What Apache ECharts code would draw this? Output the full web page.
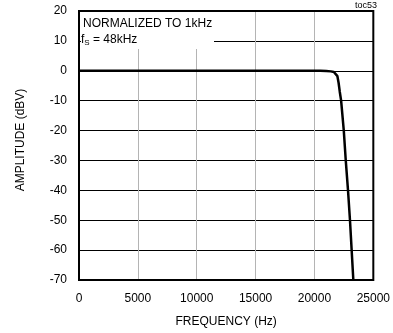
<!DOCTYPE html>
<html>
<head>
<meta charset="utf-8">
<script src="https://cdn.jsdelivr.net/npm/echarts@6/dist/echarts.min.js"></script>
<style>
html,body{margin:0;padding:0;background:#fff;}
#c{width:393px;height:333px;}
</style>
</head>
<body>
<div id="c"></div>
<script>
const freqHz = [0, 5000, 10000, 15000, 20000, 20500, 21000, 21400, 21650, 21800, 21950, 22050, 22150, 22266, 22492, 22659, 22851, 23018, 23160, 23303];
const amplitudeDbv = [0, 0, 0, 0, 0, -0.02, -0.08, -0.2, -0.4, -0.8, -1.8, -4, -7, -10, -20, -30, -40, -50, -60, -70];
const xTicks = [0, 5000, 10000, 15000, 20000, 25000];
const yTicks = [-70, -60, -50, -40, -30, -20, -10, 0, 10, 20];

const FONT = "'Liberation Sans', Arial, sans-serif";
const chart = echarts.init(document.getElementById('c'), null, {renderer: 'canvas'});
const data = freqHz.map((f, i) => [f, amplitudeDbv[i]]);

chart.setOption({
  animation: false,
  backgroundColor: '#fff',
  grid: {left: 79, right: 15, top: 11, bottom: 51, show: true, borderColor: '#000', borderWidth: 2, backgroundColor: 'transparent', z: 3},
  xAxis: {
    type: 'value', min: xTicks[0], max: xTicks[xTicks.length - 1], interval: 5000,
    name: 'FREQUENCY (Hz)', nameLocation: 'middle', nameGap: 36,
    nameTextStyle: {fontFamily: FONT, fontSize: 12, color: '#000'},
    axisLine: {show: false}, axisTick: {show: false},
    axisLabel: {fontFamily: FONT, fontSize: 12, color: '#000', margin: 13, formatter: v => String(v)},
    splitLine: {show: true, lineStyle: {color: '#b4b4b4', width: 1}}
  },
  yAxis: {
    type: 'value', min: yTicks[0], max: yTicks[yTicks.length - 1], interval: 10,
    name: 'AMPLITUDE (dBV)', nameLocation: 'middle', nameGap: 52,
    nameTextStyle: {fontFamily: FONT, fontSize: 12, color: '#000', padding: [0, 0, 0, 11]},
    axisLine: {show: false}, axisTick: {show: false},
    axisLabel: {fontFamily: FONT, fontSize: 12, color: '#000', margin: 12, formatter: v => String(v)},
    splitLine: {show: true, lineStyle: {color: '#000', width: 1}}
  },
  graphic: [
    {type: 'rect', shape: {x: 81, y: 12, width: 133, height: 37}, style: {fill: '#fff'}, z: 2},
    {type: 'text', x: 83, y: 18, z: 4, style: {text: 'NORMALIZED TO 1kHz', font: '12px ' + FONT, fill: '#000'}},
    {type: 'text', x: 81, y: 33, z: 4, style: {
      text: '{a|f}{s|S}{a| = 48kHz}', fill: '#000',
      rich: {a: {fontFamily: FONT, fontSize: 12, fill: '#000', lineHeight: 14}, s: {fontFamily: FONT, fontSize: 8, fill: '#000', verticalAlign: 'bottom', lineHeight: 10, padding: [5, 0, 0, 0]}}
    }},
    {type: 'text', right: 16, top: 1, z: 4, style: {text: 'toc53', font: '9px ' + FONT, fill: '#000'}}
  ],
  series: [{
    type: 'line', data: data, showSymbol: false, smooth: false,
    lineStyle: {color: '#000', width: 2.5}, z: 5
  }]
});
</script>
</body>
</html>
